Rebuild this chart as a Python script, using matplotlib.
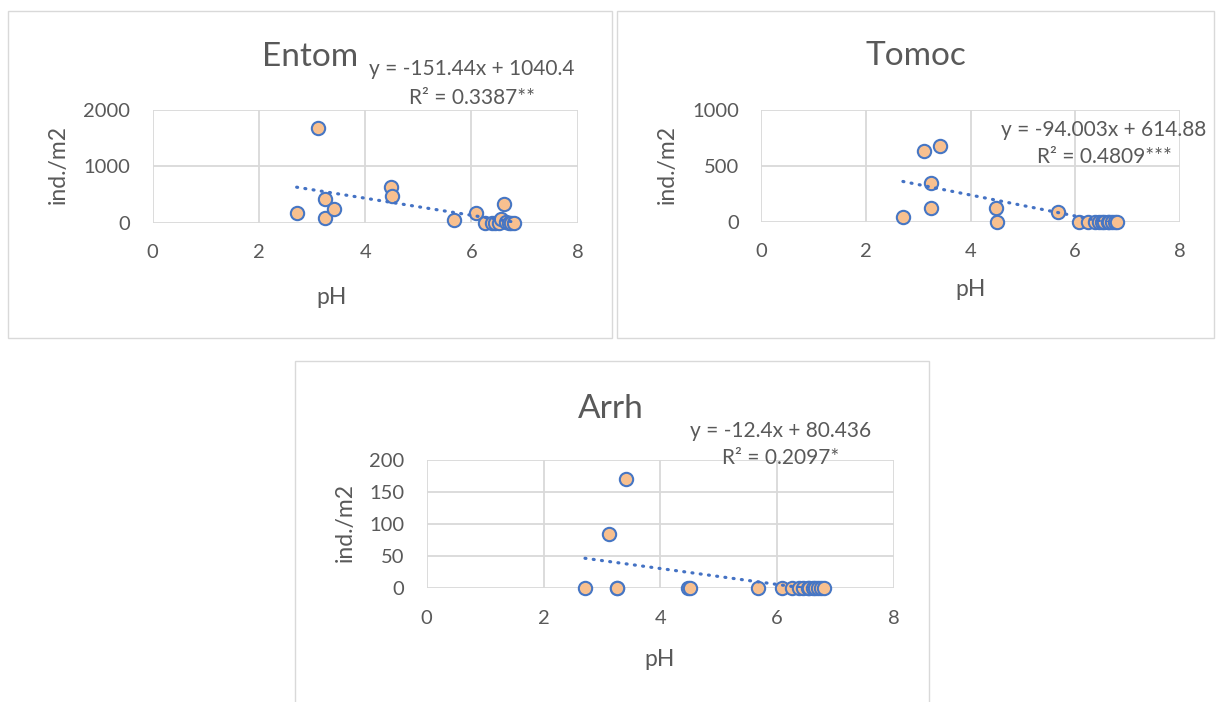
import matplotlib.pyplot as plt
from matplotlib.patches import Rectangle

W, H = 1216, 702

# shared pH of the sampling sites
ph = [2.71, 3.12, 3.25, 3.25, 3.42, 4.48, 4.50, 5.68, 6.08, 6.25,
      6.38, 6.45, 6.52, 6.55, 6.62, 6.65, 6.70, 6.75, 6.80]

# densities (ind./m2) per taxon
entom = [171, 1688, 418, 76, 247, 635, 465, 47, 171, 0,
         0, 0, 0, 70, 335, 10, 0, 0, 0]
tomoc = [39, 637, 342, 125, 679, 125, 0, 83, 0, 0,
         0, 0, 0, 0, 0, 0, 0, 0, 0]
arrh = [0, 85, 0, 0, 171, 0, 0, 0, 0, 0,
        0, 0, 0, 0, 0, 0, 0, 0, 0]

# trendline coefficients as reported
fits = {
    'Entom': (-151.44, 1040.4, 'y = -151.44x + 1040.4', 'R² = 0.3387**'),
    'Tomoc': (-94.003, 614.88, 'y = -94.003x + 614.88', 'R² = 0.4809***'),
    'Arrh': (-12.4, 80.436, 'y = -12.4x + 80.436', 'R² = 0.2097*'),
}
yticks = {
    'Entom': [0, 1000, 2000],
    'Tomoc': [0, 500, 1000],
    'Arrh': [0, 50, 100, 150, 200],
}
xticks = [0, 2, 4, 6, 8]

plt.rcParams['font.family'] = ['Lato', 'DejaVu Sans']
txt = '#595959'
grid_c = '#D9D9D9'
face = '#F8C08F'
edge = '#4676C4'
line_c = '#4472C4'

fig = plt.figure(figsize=(W / 100, H / 100), dpi=100)


def fx(x):
    return x / W


def fy(y):
    return 1 - y / H


# panel frames
for x0, y0, x1, y1 in [(8, 11, 612, 338), (617, 11, 1214, 338), (295, 361, 929, 710)]:
    fig.patches.append(Rectangle((fx(x0), fy(y1)), fx(x1 - x0), (y1 - y0) / H,
                                 transform=fig.transFigure, fill=False,
                                 edgecolor=grid_c, linewidth=1))

# layout per panel: plot box (l, t, r, b), title, eq, pH label, y label
layout = {
    'Entom': dict(box=(152.7, 110, 577.7, 222.7), title=(310, 66),
                  eq=(472, 75, 104), xl=(332, 297), yl=(58, 165)),
    'Tomoc': dict(box=(761, 110, 1180, 221.7), title=(916, 65),
                  eq=(1104, 136, 163), xl=(971, 290), yl=(667, 165)),
    'Arrh': dict(box=(426.7, 460, 894, 588.3), title=(611, 418),
                 eq=(781, 437, 464), xl=(660, 660), yl=(345, 523)),
}
data = {'Entom': entom, 'Tomoc': tomoc, 'Arrh': arrh}

for name, vals in data.items():
    lo = layout[name]
    l, t, r, b = lo['box']
    ax = fig.add_axes([fx(l), fy(b), (r - l) / W, (b - t) / H])
    yt = yticks[name]
    ax.set_xlim(0, 8)
    ax.set_ylim(yt[0], yt[-1])
    ax.set_xticks(xticks)
    ax.set_yticks(yt)
    for s in ax.spines.values():
        s.set_visible(False)
    ax.grid(True, color=grid_c, linewidth=1.3, zorder=0)
    ax.set_axisbelow(True)
    ax.tick_params(length=0, labelsize=14.5, colors=txt)
    ax.tick_params(axis='x', pad=15.5)
    ax.tick_params(axis='y', pad=16)

    ax.scatter(ph, vals, s=92, facecolor=face, edgecolor=edge,
               linewidth=1.5, zorder=3, clip_on=False)

    m, c, eq1, eq2 = fits[name]
    xs = [min(ph), max(ph)]
    ax.plot(xs, [m * x + c for x in xs], color=line_c, linewidth=2.3,
            linestyle=(0, (0.3, 2.3)), dash_capstyle='round', zorder=4)

    ax.set_xlabel('pH', fontsize=16.5, color=txt)
    ax.xaxis.set_label_coords(fx(lo['xl'][0]), fy(lo['xl'][1]), transform=fig.transFigure)
    ax.xaxis.label.set_va('center')
    ax.set_ylabel('ind./m2', fontsize=16.5, color=txt)
    ax.yaxis.set_label_coords(fx(lo['yl'][0]), fy(lo['yl'][1]), transform=fig.transFigure)
    ax.yaxis.label.set_va('center')

    fig.text(fx(lo['title'][0]), fy(lo['title'][1]), name, fontsize=24,
             color=txt, ha='center', va='baseline')
    ex, ey1, ey2 = lo['eq']
    fig.text(fx(ex), fy(ey1), eq1, fontsize=15, color=txt, ha='center', va='baseline')
    fig.text(fx(ex), fy(ey2), eq2, fontsize=15, color=txt, ha='center', va='baseline')

fig.savefig('out.png', dpi=100)
